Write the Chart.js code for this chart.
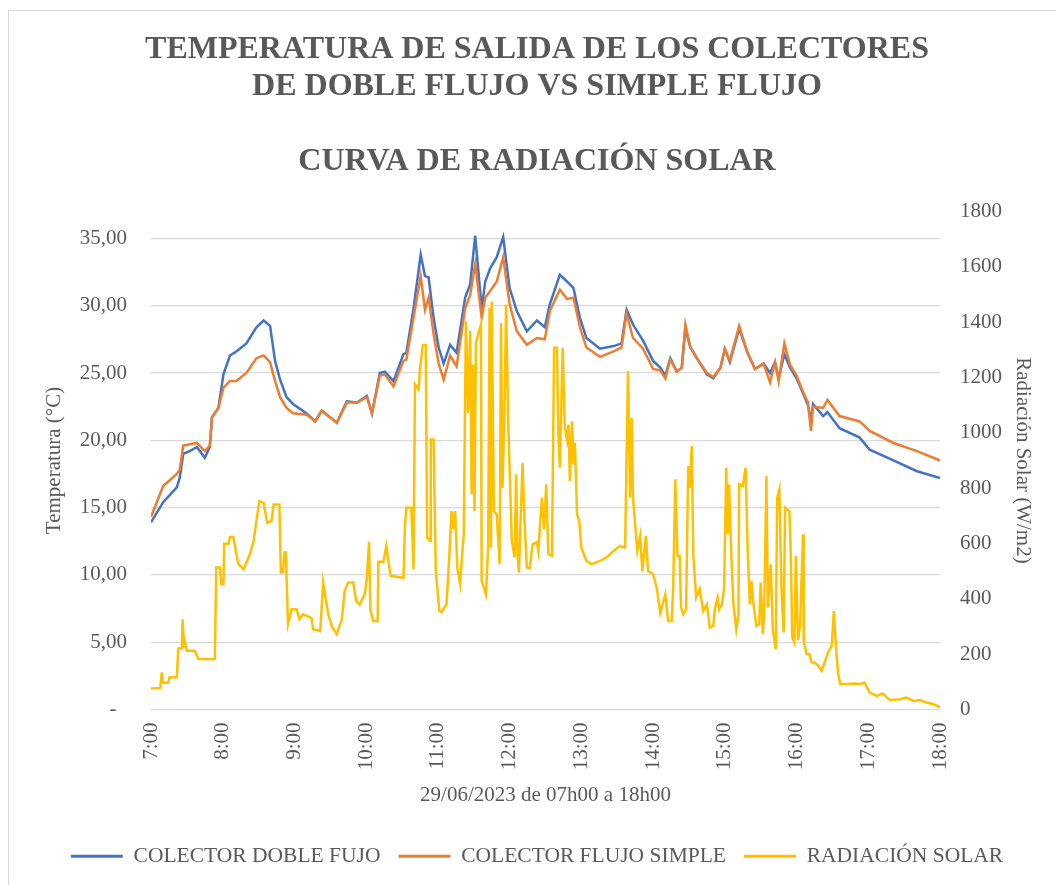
<!DOCTYPE html>
<html>
<head>
<meta charset="utf-8">
<script src="https://cdn.jsdelivr.net/npm/chart.js"></script>
<style>
  body { margin: 0; background: #fff; overflow: hidden; }
  #wrap { position: relative; width: 1056px; height: 885px; }
  #frame { position: absolute; left: 8px; top: 10px; width: 1100px; height: 900px; border: 1.5px solid #d9d9d9; box-sizing: border-box; }
  #chart { position: absolute; left: 0; top: 0; }
</style>
</head>
<body>
<div id="wrap">
  <div id="frame"></div>
  <canvas id="chart" width="1056" height="885"></canvas>
</div>
<script>
// temperature readings (hour of day, °C)
const tempHours = [7.00, 7.17, 7.36, 7.40, 7.45, 7.54, 7.64, 7.75, 7.82, 7.85, 7.94, 8.01, 8.10, 8.19, 8.33, 8.47, 8.57, 8.66, 8.73, 8.80,
  8.89, 8.98, 9.17, 9.29, 9.38, 9.50, 9.59, 9.73, 9.87, 10.01, 10.08, 10.19, 10.26, 10.38, 10.52, 10.56, 10.66, 10.76, 10.82, 10.87,
  10.94, 11.01, 11.08, 11.17, 11.26, 11.38, 11.45, 11.52, 11.61, 11.66, 11.73, 11.82, 11.91, 12.00, 12.10, 12.24, 12.38, 12.49, 12.56, 12.70,
  12.80, 12.89, 12.98, 13.07, 13.26, 13.45, 13.56, 13.63, 13.72, 13.86, 14.00, 14.10, 14.17, 14.24, 14.33, 14.40, 14.45, 14.52, 14.61, 14.75,
  14.84, 14.94, 15.00, 15.07, 15.20, 15.31, 15.42, 15.54, 15.63, 15.70, 15.75, 15.83, 15.91, 16.00, 16.09, 16.16, 16.20, 16.23, 16.37, 16.43,
  16.60, 16.88, 17.02, 17.35, 17.68, 18.00];
const dobleFlujo = [13.9, 15.4, 16.5, 17.2, 19.0, 19.2, 19.5, 18.7, 19.5, 21.7, 22.4, 24.9, 26.3, 26.6, 27.2, 28.4, 28.9, 28.5, 25.9, 24.5,
  23.2, 22.7, 22.0, 21.4, 22.2, 21.7, 21.3, 22.9, 22.8, 23.3, 22.0, 25.0, 25.1, 24.4, 26.4, 26.5, 29.8, 33.8, 32.2, 32.1,
  29.1, 26.9, 25.7, 27.1, 26.5, 30.6, 31.6, 35.2, 29.8, 31.8, 32.8, 33.6, 35.1, 31.3, 29.6, 28.1, 28.9, 28.4, 30.1, 32.3,
  31.8, 31.3, 29.1, 27.6, 26.8, 27.0, 27.2, 29.7, 28.6, 27.4, 25.9, 25.4, 24.8, 26.1, 25.1, 25.4, 28.3, 26.9, 26.1, 24.9,
  24.6, 25.4, 26.8, 25.8, 28.3, 26.6, 25.3, 25.7, 25.0, 25.8, 24.6, 26.4, 25.4, 24.6, 23.5, 22.6, 21.4, 22.7, 21.8, 22.1,
  20.9, 20.2, 19.3, 18.5, 17.7, 17.2];
const flujoSimple = [14.3, 16.6, 17.5, 17.8, 19.6, 19.7, 19.8, 19.2, 19.6, 21.7, 22.4, 23.9, 24.4, 24.4, 25.0, 26.1, 26.3, 25.8, 24.4, 23.2,
  22.4, 22.0, 21.9, 21.4, 22.2, 21.7, 21.3, 22.8, 22.8, 23.2, 22.0, 24.8, 24.9, 24.0, 25.9, 26.0, 29.1, 32.2, 29.7, 30.6,
  27.9, 25.7, 24.5, 26.3, 25.5, 29.8, 30.8, 33.1, 29.1, 30.6, 31.1, 31.8, 33.6, 30.1, 28.1, 27.1, 27.6, 27.5, 29.6, 31.2,
  30.5, 30.6, 28.4, 26.9, 26.2, 26.6, 26.9, 29.4, 27.6, 26.8, 25.3, 25.2, 24.6, 26.0, 25.1, 25.4, 28.6, 26.9, 26.1, 25.0,
  24.7, 25.4, 26.8, 25.9, 28.5, 26.6, 25.3, 25.7, 24.3, 25.8, 24.4, 27.2, 25.6, 24.8, 23.6, 22.8, 20.7, 22.5, 22.4, 23.0,
  21.8, 21.4, 20.7, 19.8, 19.2, 18.5];

// solar radiation readings (hour of day, W/m2)
const radHours = [7.00, 7.13, 7.15, 7.16, 7.24, 7.26, 7.36, 7.38, 7.43, 7.44, 7.46, 7.47, 7.50, 7.61, 7.66, 7.89, 7.91, 7.96, 7.98, 8.01,
  8.02, 8.08, 8.10, 8.15, 8.19, 8.22, 8.29, 8.38, 8.43, 8.47, 8.51, 8.57, 8.62, 8.68, 8.71, 8.79, 8.81, 8.84, 8.86, 8.88,
  8.91, 8.96, 9.03, 9.07, 9.12, 9.24, 9.26, 9.36, 9.40, 9.47, 9.52, 9.59, 9.66, 9.70, 9.75, 9.82, 9.86, 9.91, 9.98, 10.01,
  10.04, 10.06, 10.10, 10.16, 10.17, 10.24, 10.28, 10.31, 10.34, 10.52, 10.54, 10.56, 10.63, 10.66, 10.68, 10.73, 10.75, 10.79, 10.83, 10.85,
  10.89, 10.90, 10.94, 10.97, 11.02, 11.05, 11.12, 11.16, 11.19, 11.21, 11.24, 11.27, 11.31, 11.34, 11.36, 11.39, 11.42, 11.45, 11.47, 11.49,
  11.51, 11.53, 11.56, 11.60, 11.61, 11.64, 11.67, 11.70, 11.72, 11.74, 11.75, 11.78, 11.82, 11.86, 11.88, 11.90, 11.93, 11.95, 11.98, 12.03,
  12.07, 12.09, 12.11, 12.13, 12.15, 12.18, 12.21, 12.24, 12.28, 12.32, 12.38, 12.40, 12.45, 12.48, 12.51, 12.54, 12.59, 12.62, 12.66, 12.68,
  12.70, 12.74, 12.77, 12.80, 12.82, 12.84, 12.87, 12.89, 12.91, 12.94, 12.97, 13.00, 13.07, 13.14, 13.26, 13.35, 13.45, 13.54, 13.61, 13.65,
  13.68, 13.70, 13.72, 13.75, 13.78, 13.82, 13.85, 13.90, 13.93, 14.00, 14.05, 14.10, 14.17, 14.21, 14.26, 14.28, 14.31, 14.34, 14.37, 14.39,
  14.42, 14.46, 14.49, 14.51, 14.54, 14.56, 14.60, 14.65, 14.70, 14.75, 14.79, 14.84, 14.86, 14.90, 14.92, 14.96, 14.99, 15.02, 15.04, 15.06,
  15.09, 15.12, 15.16, 15.19, 15.20, 15.25, 15.29, 15.32, 15.35, 15.37, 15.40, 15.44, 15.48, 15.50, 15.53, 15.55, 15.58, 15.60, 15.64, 15.67,
  15.71, 15.73, 15.76, 15.79, 15.82, 15.84, 15.90, 15.92, 15.94, 15.97, 15.99, 16.02, 16.05, 16.09, 16.10, 16.14, 16.18, 16.21, 16.25, 16.30,
  16.35, 16.40, 16.44, 16.49, 16.52, 16.55, 16.58, 16.61, 16.70, 16.79, 16.88, 16.95, 17.02, 17.12, 17.20, 17.30, 17.44, 17.53, 17.63, 17.72,
  17.81, 17.91, 18.00];
const radiacion = [76, 78, 134, 97, 97, 116, 116, 220, 220, 326, 224, 248, 212, 212, 182, 182, 513, 513, 453, 453,
  599, 599, 623, 623, 561, 525, 507, 562, 609, 681, 753, 747, 675, 681, 741, 741, 495, 495, 567, 567,
  308, 362, 362, 326, 344, 330, 290, 284, 459, 344, 302, 272, 326, 428, 459, 459, 392, 380, 416, 476,
  606, 356, 320, 320, 534, 534, 591, 534, 483, 476, 663, 729, 729, 507, 1175, 1157, 1229, 1317, 1317, 621,
  609, 976, 976, 501, 356, 352, 380, 561, 717, 651, 717, 513, 453, 567, 633, 1403, 1072, 1368, 778, 1247,
  717, 1325, 1355, 1391, 465, 440, 416, 585, 1451, 585, 1475, 717, 705, 525, 1397, 801, 1090, 1464, 1042, 609,
  549, 850, 561, 495, 657, 892, 669, 513, 510, 597, 605, 573, 765, 651, 814, 561, 555, 1307, 1307, 994,
  874, 1307, 1018, 976, 1030, 826, 1042, 886, 964, 705, 681, 585, 537, 525, 537, 549, 573, 591, 585, 1223,
  765, 1054, 765, 669, 573, 627, 501, 627, 501, 489, 440, 350, 416, 320, 320, 440, 832, 555, 555, 368,
  344, 362, 880, 801, 952, 561, 404, 435, 356, 380, 296, 302, 362, 404, 362, 380, 440, 874, 633, 814,
  561, 380, 290, 344, 814, 808, 874, 561, 380, 465, 380, 302, 308, 459, 272, 362, 844, 368, 525, 284,
  218, 765, 796, 440, 278, 729, 717, 561, 260, 242, 555, 250, 308, 633, 248, 200, 200, 170, 170, 159,
  140, 176, 206, 230, 356, 224, 128, 92, 92, 94, 92, 97, 61, 49, 58, 34, 37, 43, 31, 34,
  25, 19, 8];

const titleLines = ['TEMPERATURA DE SALIDA DE LOS COLECTORES', 'DE DOBLE FLUJO VS SIMPLE FLUJO', '', 'CURVA DE RADIACIÓN SOLAR'];

const toPoints = (xs, ys) => xs.map((x, i) => ({ x: x, y: ys[i] }));

function serie(label, xs, ys, color, axis, order) {
  return {
    label: label,
    data: toPoints(xs, ys),
    borderColor: color,
    backgroundColor: color,
    pointBorderColor: color,
    pointBackgroundColor: color,
    pointBorderWidth: 3,
    yAxisID: axis,
    order: order
  };
}

Chart.defaults.font.family = "'Liberation Serif', 'Times New Roman', serif";
Chart.defaults.font.size = 21;
Chart.defaults.color = '#595959';

const ctx = document.getElementById('chart').getContext('2d');
new Chart(ctx, {
  type: 'line',
  data: {
    datasets: [
      serie('COLECTOR DOBLE FUJO', tempHours, dobleFlujo, '#4472C4', 'y', 2),
      serie('COLECTOR FLUJO SIMPLE', tempHours, flujoSimple, '#ED7D31', 'y', 1),
      serie('RADIACIÓN SOLAR', radHours, radiacion, '#FFC000', 'y1', 0)
    ]
  },
  options: {
    responsive: false,
    animation: false,
    layout: { padding: { left: 18, right: 0, top: 0, bottom: 8 } },
    elements: {
      point: { radius: 0 },
      line: { borderWidth: 2.5, tension: 0 }
    },
    plugins: {
      title: {
        display: true,
        text: titleLines,
        color: '#595959',
        font: { size: 32, weight: 'bold', lineHeight: 1.16 },
        padding: { top: 31.5, bottom: 31.5 }
      },
      legend: {
        position: 'bottom',
        labels: {
          usePointStyle: true,
          pointStyle: 'line',
          pointStyleWidth: 52,
          padding: 18,
          color: '#595959',
          font: { size: 21.5 },
          sort: (a, b) => a.datasetIndex - b.datasetIndex
        }
      },
      tooltip: { enabled: false }
    },
    scales: {
      x: {
        type: 'linear',
        min: 7,
        max: 18,
        grid: { display: false, drawTicks: false },
        border: { display: false },
        ticks: {
          stepSize: 1,
          autoSkip: false,
          minRotation: 90,
          maxRotation: 90,
          padding: 13,
          callback: v => v + ':00'
        },
        title: {
          display: true,
          text: '29/06/2023 de 07h00 a 18h00',
          padding: { top: 0, bottom: 19 }
        }
      },
      y: {
        position: 'left',
        min: 0,
        max: 37,
        afterFit: s => { s.width = 133; },
        grid: { color: '#d9d9d9', lineWidth: 1.3, drawTicks: false },
        border: { display: false },
        ticks: {
          stepSize: 5,
          includeBounds: false,
          padding: 24,
          callback: v => v === 0 ? '-  ' : v.toFixed(2).replace('.', ',')
        },
        title: {
          display: true,
          text: 'Temperatura (°C)',
          padding: { top: 24, bottom: 12 }
        }
      },
      y1: {
        position: 'right',
        min: 0,
        max: 1800,
        afterFit: s => { s.width = 116; },
        grid: { display: false, drawTicks: false },
        border: { display: false },
        ticks: {
          stepSize: 200,
          padding: 20,
          callback: v => String(v)
        },
        title: {
          display: true,
          text: 'Radiación Solar (W/m2)',
          padding: { top: 21, bottom: 6 }
        }
      }
    }
  }
});
</script>
</body>
</html>
